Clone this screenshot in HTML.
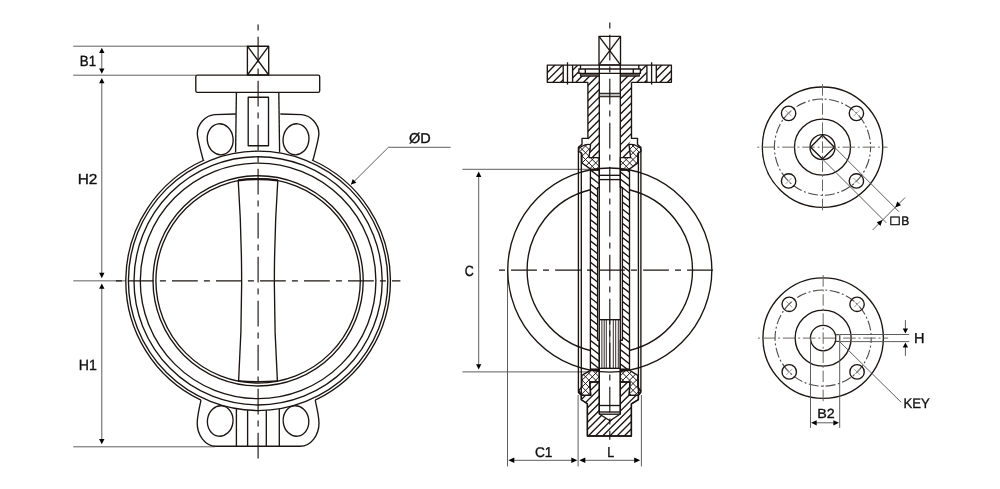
<!DOCTYPE html>
<html lang="en">
<head>
<meta charset="utf-8">
<title>Butterfly valve dimension drawing</title>
<style>
html,body{margin:0;padding:0;background:#fff;}
body{width:1000px;height:489px;overflow:hidden;}
svg{display:block;will-change:transform;}
.m{stroke:#1c1412;stroke-width:1.35;fill:none;stroke-linejoin:round;}
.s{stroke:#1c1412;stroke-width:0.9;fill:none;}
.t{stroke:#555;stroke-width:0.95;fill:none;}
.c{stroke:#1c1412;stroke-width:1.15;fill:none;}
.c2{stroke:#1c1412;stroke-width:1.3;fill:none;}
.c3{stroke:#6a6563;stroke-width:1.0;fill:none;}
.x{stroke:#8a8a8a;stroke-width:0.8;fill:none;}
.ar{fill:#000;stroke:none;}
text{font-family:"Liberation Sans","DejaVu Sans",sans-serif;fill:#111;text-rendering:geometricPrecision;}
</style>
</head>
<body>
<svg width="1000" height="489" viewBox="0 0 1000 489">
<rect width="1000" height="489" fill="#fff"/>
<g id="front-view">
<line class="t" x1="73.30" y1="46.20" x2="247.40" y2="46.20" />
<line class="t" x1="73.30" y1="75.20" x2="196.00" y2="75.20" />
<line class="t" x1="73.30" y1="280.85" x2="125.00" y2="280.85" />
<line class="t" x1="73.30" y1="446.80" x2="215.00" y2="446.80" />
<line class="t" x1="101.80" y1="51.86" x2="101.80" y2="69.54" />
<polygon class="ar" points="101.80,47.70 104.45,52.90 99.15,52.90"/>
<polygon class="ar" points="101.80,73.70 99.15,68.50 104.45,68.50"/>
<line class="t" x1="101.80" y1="82.14" x2="101.80" y2="273.91" />
<polygon class="ar" points="101.80,77.90 104.45,83.20 99.15,83.20"/>
<polygon class="ar" points="101.80,278.15 99.15,272.85 104.45,272.85"/>
<line class="t" x1="101.80" y1="287.69" x2="101.80" y2="439.96" />
<polygon class="ar" points="101.80,283.45 104.45,288.75 99.15,288.75"/>
<polygon class="ar" points="101.80,444.20 99.15,438.90 104.45,438.90"/>
<text transform="translate(79.81 65.62) scale(1.3288 1.4818)" font-size="10.0" style="stroke:#111;stroke-width:0.249">B1</text>
<text transform="translate(77.64 183.62) scale(1.5435 1.4500)" font-size="10.0" style="stroke:#111;stroke-width:0.234">H2</text>
<text transform="translate(78.74 369.52) scale(1.4130 1.4818)" font-size="10.0" style="stroke:#111;stroke-width:0.242">H1</text>
<rect class="m" x="247.4" y="46.2" width="21.3" height="28.8"/>
<line class="m" x1="247.40" y1="46.20" x2="268.70" y2="75.00" />
<line class="m" x1="268.70" y1="46.20" x2="247.40" y2="75.00" />
<rect class="m" x="195.8" y="75.1" width="123.9" height="17.2" rx="1.6" ry="1.6"/>
<path class="m" d="M236.4,92.3 L235.6,152.6" />
<path class="m" d="M278.8,92.3 L279.6,152.6" />
<rect class="m" x="248.2" y="97.2" width="20.3" height="48.6"/>
<path class="m" d="M235.90,114.0 L214.50,114.6 C205.00,115.5 197.30,124.5 197.30,133.5 C197.30,138 200.50,150 203.20,160.0" />
<ellipse class="m" cx="220.20" cy="139.3" rx="12.9" ry="15.6" transform="rotate(-7 220.20 139.3)"/>
<path class="m" d="M280.30,114.0 L301.70,114.6 C311.20,115.5 318.90,124.5 318.90,133.5 C318.90,138 315.70,150 313.00,160.0" />
<ellipse class="m" cx="296.00" cy="139.3" rx="12.9" ry="15.6" transform="rotate(7 296.00 139.3)"/>
<path class="m" d="M201.00,400.2 C199.00,409 197.20,418 197.20,423 C197.20,435 205.00,446.2 216.00,446.2 L258.1,446.2" />
<ellipse class="m" cx="220.20" cy="421.0" rx="12.8" ry="15.3" transform="rotate(7 220.20 421)"/>
<path class="m" d="M315.20,400.2 C317.20,409 319.00,418 319.00,423 C319.00,435 311.20,446.2 300.20,446.2 L258.1,446.2" />
<ellipse class="m" cx="296.00" cy="421.0" rx="12.8" ry="15.3" transform="rotate(-7 296.00 421)"/>
<line class="m" x1="236.40" y1="408.72" x2="236.40" y2="446.20" />
<line class="m" x1="247.60" y1="410.12" x2="247.60" y2="446.20" />
<line class="m" x1="266.30" y1="410.29" x2="266.30" y2="446.20" />
<line class="m" x1="279.30" y1="408.81" x2="279.30" y2="446.20" />
<path class="m" d="M311.94,160.00 A132.3,132.3 0 0 1 315.19,400.20" />
<path class="m" d="M201.01,400.20 A132.3,132.3 0 0 1 204.26,160.00" />
<circle class="m" cx="258.10" cy="280.85" r="129.70" />
<circle class="m" cx="258.10" cy="280.85" r="124.10" />
<circle class="m" cx="258.10" cy="280.85" r="117.80" />
<circle class="m" cx="258.10" cy="280.85" r="105.10" />
<circle class="m" cx="258.10" cy="280.85" r="102.20" />
<path class="m" d="M238.2,180.3 Q244.9,280.5 238.6,381.0" />
<path class="m" d="M277.8,180.3 Q271.1,280.5 277.4,381.0" />
<path class="m" d="M238.2,180.3 Q258,178.0 277.8,180.3" style="stroke-width:2.2"/>
<path class="m" d="M238.6,381.0 Q258,382.6 277.4,381.0" style="stroke-width:1.5"/>
<line class="c" x1="258.10" y1="24.60" x2="258.10" y2="458.50" stroke-dasharray="6 6.1 25.8 6.1"/>
<line class="c" x1="115.90" y1="280.85" x2="400.40" y2="280.85" stroke-dasharray="6 6.1 25.8 6.1"/>
<line class="t" x1="351.00" y1="184.50" x2="388.40" y2="147.30" />
<line class="t" x1="388.40" y1="147.30" x2="450.60" y2="147.30" />
<polygon class="ar" points="351.00,184.50 352.66,179.09 356.41,182.84"/>
<text transform="translate(409.09 143.17) scale(1.4504 1.4257)" font-size="10.0" style="stroke:#111;stroke-width:0.243">ØD</text>
</g>
<g id="section-view">
<line class="t" x1="462.40" y1="169.30" x2="590.00" y2="169.30" />
<line class="t" x1="462.40" y1="371.90" x2="590.00" y2="371.90" />
<line class="t" x1="478.70" y1="175.84" x2="478.70" y2="365.36" />
<polygon class="ar" points="478.70,171.60 481.35,176.90 476.05,176.90"/>
<polygon class="ar" points="478.70,369.60 476.05,364.30 481.35,364.30"/>
<text transform="translate(464.65 275.88) scale(1.2460 1.4859)" font-size="10.0" style="stroke:#111;stroke-width:0.256">C</text>
<line class="t" x1="507.50" y1="270.00" x2="507.50" y2="466.40" />
<line class="t" x1="578.10" y1="395.00" x2="578.10" y2="466.40" />
<line class="t" x1="641.40" y1="395.00" x2="641.40" y2="466.40" />
<line class="t" x1="513.10" y1="460.30" x2="572.50" y2="460.30" />
<polygon class="ar" points="508.30,460.30 514.30,457.50 514.30,463.10"/>
<polygon class="ar" points="577.30,460.30 571.30,463.10 571.30,457.50"/>
<line class="t" x1="584.10" y1="460.30" x2="635.40" y2="460.30" />
<polygon class="ar" points="579.30,460.30 585.30,457.50 585.30,463.10"/>
<polygon class="ar" points="640.20,460.30 634.20,463.10 634.20,457.50"/>
<text transform="translate(534.99 457.28) scale(1.3686 1.4155)" font-size="10.0" style="stroke:#111;stroke-width:0.251">C1</text>
<text transform="translate(607.18 457.43) scale(1.2472 1.4234)" font-size="10.0" style="stroke:#111;stroke-width:0.262">L</text>
<clipPath id="cp1"><path d="M547.3,65.05 H563.2 V82.3 H547.3 Z M572.6,65.05 H580.5 V69.0 H578.9 V73.4 H580.6 V76.0 H599.3 V157.6 H589.0 L590.6,144.6 L587.9,138.4 V82.3 H572.6 Z" clip-rule="evenodd"/></clipPath>
<path d="M493.21,111.51L573.31,31.41M497.03,115.33L577.13,35.23M500.85,119.14L580.94,39.05M504.67,122.96L584.76,42.87M508.48,126.78L588.58,46.68M512.30,130.60L592.40,50.50M516.12,134.42L596.22,54.32M519.94,138.24L600.04,58.14M523.76,142.05L603.85,61.96M527.58,145.87L607.67,65.78M531.39,149.69L611.49,69.59M535.21,153.51L615.31,73.41M539.03,157.33L619.13,77.23M542.85,161.15L622.95,81.05M546.67,164.96L626.76,84.87M550.49,168.78L630.58,88.69M554.30,172.60L634.40,92.50M558.12,176.42L638.22,96.32M561.94,180.24L642.04,100.14M565.76,184.06L645.86,103.96M569.58,187.88L649.68,107.78" clip-path="url(#cp1)" style="fill:none;stroke:#1c1412;stroke-width:1.35"/>
<clipPath id="cp2"><path d="M671.4,65.05 H656.3 V82.3 H671.4 Z M646.9,65.05 H638.8 V69.0 H640.4 V73.4 H639.2 V76.0 H620.3 V157.6 H630.6 L629.0,144.6 L631.5,138.4 V82.3 H646.9 Z" clip-rule="evenodd"/></clipPath>
<path d="M567.83,113.26L647.61,33.48M571.64,117.08L651.43,37.29M575.46,120.90L655.25,41.11M579.28,124.72L659.07,44.93M583.10,128.53L662.88,48.75M586.92,132.35L666.70,52.57M590.74,136.17L670.52,56.39M594.55,139.99L674.34,60.20M598.37,143.81L678.16,64.02M602.19,147.63L681.98,67.84M606.01,151.44L685.79,71.66M609.83,155.26L689.61,75.48M613.65,159.08L693.43,79.30M617.46,162.90L697.25,83.11M621.28,166.72L701.07,86.93M625.10,170.54L704.89,90.75M628.92,174.35L708.70,94.57M632.74,178.17L712.52,98.39M636.56,181.99L716.34,102.21M640.37,185.81L720.16,106.02M644.19,189.63L723.98,109.84" clip-path="url(#cp2)" style="fill:none;stroke:#1c1412;stroke-width:1.35"/>
<path class="m" d="M587.9,82.3 H547.3 V65.05 H671.4 V82.3 H631.5" />
<line class="m" x1="563.20" y1="65.05" x2="563.20" y2="82.30" />
<line class="m" x1="572.60" y1="65.05" x2="572.60" y2="82.30" />
<line class="c2" x1="567.50" y1="62.30" x2="567.50" y2="84.60" />
<line class="m" x1="656.30" y1="65.05" x2="656.30" y2="82.30" />
<line class="m" x1="646.90" y1="65.05" x2="646.90" y2="82.30" />
<line class="c2" x1="651.60" y1="62.30" x2="651.60" y2="84.60" />
<line class="m" x1="580.50" y1="69.00" x2="638.80" y2="69.00" style="stroke-width:1.5"/>
<line class="m" x1="578.90" y1="73.40" x2="640.40" y2="73.40" />
<path class="m" d="M580.5,65.05 V69.0 H578.9 V73.4 H580.6 V76.0 H599.3" />
<line class="m" x1="585.30" y1="69.00" x2="585.30" y2="73.40" />
<line class="m" x1="581.10" y1="74.80" x2="599.30" y2="74.80" style="stroke-width:1.4;stroke:#4a403c"/>
<path class="m" d="M638.8,65.05 V69.0 H640.4 V73.4 H639.2 V76.0 H620.3" />
<line class="m" x1="633.30" y1="69.00" x2="633.30" y2="73.40" />
<line class="m" x1="638.70" y1="74.80" x2="620.30" y2="74.80" style="stroke-width:1.4;stroke:#4a403c"/>
<rect class="m" x="599.0" y="36.4" width="21.5" height="28.5"/>
<line class="m" x1="599.00" y1="36.40" x2="620.50" y2="64.90" />
<line class="m" x1="620.50" y1="36.40" x2="599.00" y2="64.90" />
<path class="m" d="M587.9,82.3 V138.4 H582.0 V144.4 L578.4,147.2 V392.6 L581.3,395.3 V399.7 L587.4,403.8 V436 H609.8" />
<line class="m" x1="581.30" y1="152.50" x2="581.30" y2="394.00" />
<line class="m" x1="599.30" y1="64.90" x2="599.30" y2="414.00" />
<path class="m" d="M631.5,82.3 V138.4 H637.5 V144.4 L640.9,147.2 V392.6 L638.4,395.3 V399.7 L631.4,403.8 V436 H609.8" />
<line class="m" x1="638.40" y1="152.50" x2="638.40" y2="394.00" />
<line class="m" x1="620.30" y1="64.90" x2="620.30" y2="414.00" />
<clipPath id="cp3"><path d="M582.2,146.2 Q586.0,143.6 590.6,144.6 L589.0,157.6 H599.3 V169.6 H591.3 L581.9,163 V153.5 L578.6,151.2 L579.2,148 Z" clip-rule="evenodd"/></clipPath>
<path d="M588.50,128.60L617.40,157.50M585.10,131.99L614.01,160.90M581.71,135.38L610.62,164.29M578.32,138.78L607.22,167.68M574.92,142.17L603.83,171.08M571.53,145.57L600.43,174.47M568.13,148.96L597.04,177.87M564.74,152.36L593.64,181.26M561.35,155.75L590.25,184.65M616.53,155.63L587.63,184.53M613.14,152.23L584.23,181.14M609.74,148.84L580.84,177.74M606.35,145.45L577.45,174.35M602.96,142.05L574.05,170.96M599.56,138.66L570.66,167.56M596.17,135.26L567.26,164.17M592.77,131.87L563.87,160.77M589.38,128.47L560.47,157.38" clip-path="url(#cp3)" style="fill:none;stroke:#1c1412;stroke-width:0.95"/>
<path class="m" d="M582.2,146.2 Q586.0,143.6 590.6,144.6 L589.0,157.6 H599.3 V169.6 H591.3 L581.9,163 V153.5 L578.6,151.2 L579.2,148 Z"/>
<clipPath id="cp4"><path d="M599.3,370.2 H590.6999999999999 L581.9,375.4 V386.8 L578.8000000000001,390.6 L581.3,395.3 H590.6999999999999 L589.7,382 H599.3 Z" clip-rule="evenodd"/></clipPath>
<path d="M586.10,357.00L615.00,385.90M582.70,360.39L611.61,389.30M579.31,363.78L608.22,392.69M575.92,367.18L604.82,396.08M572.52,370.57L601.43,399.48M569.13,373.97L598.03,402.87M565.73,377.36L594.64,406.27M562.34,380.75L591.25,409.66M615.54,380.63L586.63,409.54M612.14,377.24L583.24,406.14M608.75,373.85L579.85,402.75M605.36,370.45L576.45,399.36M601.96,367.06L573.06,395.96M598.57,363.66L569.66,392.57M595.17,360.27L566.27,389.17M591.78,356.87L562.87,385.78" clip-path="url(#cp4)" style="fill:none;stroke:#1c1412;stroke-width:0.95"/>
<path class="m" d="M599.3,370.2 H590.6999999999999 L581.9,375.4 V386.8 L578.8000000000001,390.6 L581.3,395.3 H590.6999999999999 L589.7,382 H599.3 Z"/>
<clipPath id="cp5"><path d="M637.3,146.2 Q633.5,143.6 629.0,144.6 L630.6,157.6 H620.3 V169.6 H628.6 L637.8,163 V153.5 L641.0,151.2 L640.4,148 Z" clip-rule="evenodd"/></clipPath>
<path d="M629.86,129.23L658.77,158.14M626.47,132.63L655.37,161.53M623.07,136.02L651.98,164.93M619.68,139.41L648.59,168.32M616.29,142.81L645.19,171.71M612.89,146.20L641.80,175.11M609.50,149.60L638.40,178.50M606.10,152.99L635.01,181.90M602.71,156.38L631.62,185.29M657.90,154.99L628.99,183.90M654.50,151.60L625.60,180.50M651.11,148.20L622.20,177.11M647.72,144.81L618.81,173.72M644.32,141.42L615.42,170.32M640.93,138.02L612.02,166.93M637.53,134.63L608.63,163.53M634.14,131.23L605.23,160.14" clip-path="url(#cp5)" style="fill:none;stroke:#1c1412;stroke-width:0.95"/>
<path class="m" d="M637.3,146.2 Q633.5,143.6 629.0,144.6 L630.6,157.6 H620.3 V169.6 H628.6 L637.8,163 V153.5 L641.0,151.2 L640.4,148 Z"/>
<clipPath id="cp6"><path d="M620.3,370.2 H629.2 L637.8,375.4 V386.8 L640.8,390.6 L638.4,395.3 H629.2 L629.9,382 H620.3 Z" clip-rule="evenodd"/></clipPath>
<path d="M630.86,354.24L659.76,383.14M627.46,357.63L656.37,386.54M624.07,361.03L652.97,389.93M620.68,364.42L649.58,393.32M617.28,367.81L646.19,396.72M613.89,371.21L642.79,400.11M610.49,374.60L639.40,403.51M607.10,378.00L636.00,406.90M603.70,381.39L632.61,410.30M656.90,380.00L628.00,408.90M653.51,376.60L624.60,405.51M650.12,373.21L621.21,402.12M646.72,369.82L617.82,398.72M643.33,366.42L614.42,395.33M639.93,363.03L611.03,391.93M636.54,359.63L607.63,388.54M633.14,356.24L604.24,385.14" clip-path="url(#cp6)" style="fill:none;stroke:#1c1412;stroke-width:0.95"/>
<path class="m" d="M620.3,370.2 H629.2 L637.8,375.4 V386.8 L640.8,390.6 L638.4,395.3 H629.2 L629.9,382 H620.3 Z"/>
<clipPath id="cp7"><path d="M587.4,436 V403.8 L581.3,399.7 V395.3 H590.6999999999999 L589.7,382 H599.3 V414 L610.0,420.7 L620.3,414 V382 H629.9 L629.2,395.3 H638.4 V399.7 L631.4,403.8 V436 Z" clip-rule="evenodd"/></clipPath>
<path d="M549.70,409.56L610.56,348.70M553.31,413.17L614.17,352.31M556.91,416.77L617.77,355.91M560.52,420.38L621.38,359.52M564.12,423.99L624.99,363.12M567.73,427.59L628.59,366.73M571.34,431.20L632.20,370.34M574.94,434.81L635.81,373.94M578.55,438.41L639.41,377.55M582.16,442.02L643.02,381.16M585.76,445.62L646.62,384.76M589.37,449.23L650.23,388.37M592.97,452.84L653.84,391.97M596.58,456.44L657.44,395.58M600.19,460.05L661.05,399.19M603.79,463.66L664.66,402.79M607.40,467.26L668.26,406.40" clip-path="url(#cp7)" style="fill:none;stroke:#1c1412;stroke-width:1.35"/>
<path class="m" d="M587.4,436 V403.8 L581.3,399.7 V395.3 H590.6999999999999 L589.7,382 H599.3 V414 L610.0,420.7 L620.3,414 V382 H629.9 L629.2,395.3 H638.4 V399.7 L631.4,403.8 V436 Z"/>
<line class="m" x1="599.30" y1="405.50" x2="620.30" y2="405.50" />
<line class="m" x1="599.30" y1="412.00" x2="620.30" y2="412.00" />
<line class="m" x1="599.30" y1="414.20" x2="620.30" y2="414.20" />
<rect x="599.3" y="93.3" width="21.0" height="3.4" style="fill:#bbb;stroke:#1c1412;stroke-width:1.1"/>
<clipPath id="cp8"><path d="M590.4,169.7 H599.3 V187.6 H597.6 V340.2 H599.3 V369.4 H590.4 Z" clip-rule="evenodd"/></clipPath>
<path d="M574.45,129.02L736.28,255.45M571.01,133.43L732.83,259.86M567.56,137.85L729.38,264.28M564.11,142.26L725.93,268.69M560.66,146.67L722.49,273.10M557.22,151.08L719.04,277.52M553.77,155.50L715.59,281.93M550.32,159.91L712.14,286.34M546.87,164.32L708.70,290.75M543.42,168.74L705.25,295.17M539.98,173.15L701.80,299.58M536.53,177.56L698.35,303.99M533.08,181.97L694.91,308.41M529.63,186.39L691.46,312.82M526.19,190.80L688.01,317.23M522.74,195.21L684.56,321.64M519.29,199.63L681.11,326.06M515.84,204.04L677.67,330.47M512.40,208.45L674.22,334.88M508.95,212.86L670.77,339.30M505.50,217.28L667.32,343.71M502.05,221.69L663.88,348.12M498.60,226.10L660.43,352.53M495.16,230.52L656.98,356.95M491.71,234.93L653.53,361.36M488.26,239.34L650.09,365.77M484.81,243.75L646.64,370.19M481.37,248.17L643.19,374.60M477.92,252.58L639.74,379.01M474.47,256.99L636.29,383.42M471.02,261.41L632.85,387.84M467.57,265.82L629.40,392.25M464.13,270.23L625.95,396.66M460.68,274.64L622.50,401.08M457.23,279.06L619.06,405.49M453.78,283.47L615.61,409.90" clip-path="url(#cp8)" style="fill:none;stroke:#1c1412;stroke-width:1.35"/>
<path class="m" d="M590.4,169.7 H599.3 V187.6 H597.6 V340.2 H599.3 V369.4 H590.4 Z"/>
<line class="m" x1="590.40" y1="169.70" x2="599.30" y2="169.70" style="stroke-width:2"/>
<line class="m" x1="590.40" y1="369.60" x2="599.30" y2="369.60" style="stroke-width:2"/>
<clipPath id="cp9"><path d="M629.5,169.7 H620.3 V187.6 H622.4 V340.2 H620.3 V369.4 H629.5 Z" clip-rule="evenodd"/></clipPath>
<path d="M606.87,125.92L768.70,252.35M603.43,130.34L765.25,256.77M599.98,134.75L761.80,261.18M596.53,139.16L758.35,265.59M593.08,143.57L754.91,270.01M589.63,147.99L751.46,274.42M586.19,152.40L748.01,278.83M582.74,156.81L744.56,283.24M579.29,161.23L741.12,287.66M575.84,165.64L737.67,292.07M572.40,170.05L734.22,296.48M568.95,174.46L730.77,300.90M565.50,178.88L727.33,305.31M562.05,183.29L723.88,309.72M558.61,187.70L720.43,314.13M555.16,192.12L716.98,318.55M551.71,196.53L713.53,322.96M548.26,200.94L710.09,327.37M544.81,205.35L706.64,331.79M541.37,209.77L703.19,336.20M537.92,214.18L699.74,340.61M534.47,218.59L696.30,345.02M531.02,223.01L692.85,349.44M527.58,227.42L689.40,353.85M524.13,231.83L685.95,358.26M520.68,236.24L682.50,362.68M517.23,240.66L679.06,367.09M513.79,245.07L675.61,371.50M510.34,249.48L672.16,375.91M506.89,253.90L668.71,380.33M503.44,258.31L665.27,384.74M499.99,262.72L661.82,389.15M496.55,267.13L658.37,393.57M493.10,271.55L654.92,397.98M489.65,275.96L651.48,402.39M486.20,280.37L648.03,406.80M482.76,284.79L644.58,411.22" clip-path="url(#cp9)" style="fill:none;stroke:#1c1412;stroke-width:1.35"/>
<path class="m" d="M629.5,169.7 H620.3 V187.6 H622.4 V340.2 H620.3 V369.4 H629.5 Z"/>
<line class="m" x1="629.50" y1="169.70" x2="620.30" y2="169.70" style="stroke-width:2"/>
<line class="m" x1="629.50" y1="369.60" x2="620.30" y2="369.60" style="stroke-width:2"/>
<line class="m" x1="599.30" y1="175.30" x2="620.30" y2="175.30" />
<line class="m" x1="599.30" y1="179.60" x2="620.30" y2="179.60" />
<line class="m" x1="599.30" y1="319.70" x2="620.30" y2="319.70" />
<line class="s" x1="601.90" y1="319.70" x2="601.90" y2="368.30" />
<line class="s" x1="604.20" y1="319.70" x2="604.20" y2="368.30" />
<line class="s" x1="606.30" y1="319.70" x2="606.30" y2="368.30" />
<line class="s" x1="613.30" y1="319.70" x2="613.30" y2="368.30" />
<line class="s" x1="615.70" y1="319.70" x2="615.70" y2="368.30" />
<line class="s" x1="618.30" y1="319.70" x2="618.30" y2="368.30" />
<line class="s" x1="609.80" y1="319.70" x2="609.80" y2="368.30" />
<line class="m" x1="599.30" y1="368.30" x2="620.30" y2="368.30" />
<circle class="m" cx="609.80" cy="270.10" r="102.05" />
<path class="m" d="M629.30,189.73 A82.7,82.7 0 0 1 629.30,350.47" />
<path class="m" d="M590.30,350.47 A82.7,82.7 0 0 1 590.30,189.73" />
<line class="c" x1="609.80" y1="22.60" x2="609.80" y2="439.70" stroke-dasharray="6 6.1 25.8 6.1"/>
<line class="c" x1="499.00" y1="270.10" x2="714.30" y2="270.10" stroke-dasharray="6 6.1 25.8 6.1"/>
</g>
<g id="top-square">
<circle class="m" cx="822.50" cy="147.15" r="60.20" />
<circle class="m" cx="822.50" cy="147.15" r="28.00" />
<circle class="m" cx="822.50" cy="147.15" r="12.50" />
<circle class="c3" cx="822.50" cy="147.15" r="48.10" stroke-dasharray="10 2.5 2 2.5" stroke-dashoffset="5" style="stroke:#4f4a48;stroke-width:1.1"/>
<circle class="m" cx="788.60" cy="113.35" r="7.20" />
<line class="x" x1="785.60" y1="110.35" x2="791.60" y2="116.35" />
<line class="x" x1="785.60" y1="116.35" x2="791.60" y2="110.35" />
<circle class="m" cx="788.60" cy="180.95" r="7.20" />
<line class="x" x1="785.60" y1="177.95" x2="791.60" y2="183.95" />
<line class="x" x1="785.60" y1="183.95" x2="791.60" y2="177.95" />
<circle class="m" cx="856.40" cy="113.35" r="7.20" />
<line class="x" x1="853.40" y1="110.35" x2="859.40" y2="116.35" />
<line class="x" x1="853.40" y1="116.35" x2="859.40" y2="110.35" />
<circle class="m" cx="856.40" cy="180.95" r="7.20" />
<line class="x" x1="853.40" y1="177.95" x2="859.40" y2="183.95" />
<line class="x" x1="853.40" y1="183.95" x2="859.40" y2="177.95" />
<line class="c3" x1="757.30" y1="147.15" x2="887.50" y2="147.15" stroke-dasharray="2 2.8 12.5 2.8"/>
<line class="c3" x1="822.50" y1="84.15" x2="822.50" y2="210.35" stroke-dasharray="11.5 2.8 2 2.8"/>
</g>
<path class="m" d="M810.6,147.15 L822.5,135.25 L834.4,147.15 L822.5,159.05 Z" />
<line class="t" x1="834.40" y1="147.15" x2="899.00" y2="211.75" />
<line class="t" x1="822.50" y1="159.05" x2="886.30" y2="222.85" />
<line class="t" x1="872.50" y1="230.10" x2="905.00" y2="197.60" />
<polygon class="ar" points="882.50,220.10 880.41,225.93 876.67,222.19"/>
<polygon class="ar" points="895.20,207.40 897.29,201.57 901.03,205.31"/>
<text transform="translate(890.58 224.65) scale(1.4958 1.3782)" font-size="10.0" style="stroke:#111;stroke-width:0.348">□</text>
<text transform="translate(901.31 224.82) scale(1.2056 1.2336)" font-size="10.0" style="stroke:#111;stroke-width:0.287">B</text>
<g id="top-key">
<circle class="m" cx="823.15" cy="338.10" r="60.20" />
<circle class="m" cx="823.15" cy="338.10" r="28.00" />
<circle class="m" cx="823.15" cy="338.10" r="12.70" />
<circle class="c3" cx="823.15" cy="338.10" r="48.10" stroke-dasharray="10 2.5 2 2.5" stroke-dashoffset="5" style="stroke:#4f4a48;stroke-width:1.1"/>
<circle class="m" cx="789.25" cy="304.30" r="7.20" />
<line class="x" x1="786.25" y1="301.30" x2="792.25" y2="307.30" />
<line class="x" x1="786.25" y1="307.30" x2="792.25" y2="301.30" />
<circle class="m" cx="789.25" cy="371.90" r="7.20" />
<line class="x" x1="786.25" y1="368.90" x2="792.25" y2="374.90" />
<line class="x" x1="786.25" y1="374.90" x2="792.25" y2="368.90" />
<circle class="m" cx="857.05" cy="304.30" r="7.20" />
<line class="x" x1="854.05" y1="301.30" x2="860.05" y2="307.30" />
<line class="x" x1="854.05" y1="307.30" x2="860.05" y2="301.30" />
<circle class="m" cx="857.05" cy="371.90" r="7.20" />
<line class="x" x1="854.05" y1="368.90" x2="860.05" y2="374.90" />
<line class="x" x1="854.05" y1="374.90" x2="860.05" y2="368.90" />
<line class="c3" x1="757.95" y1="338.10" x2="888.15" y2="338.10" stroke-dasharray="2 2.8 12.5 2.8"/>
<line class="c3" x1="823.15" y1="275.10" x2="823.15" y2="401.30" stroke-dasharray="11.5 2.8 2 2.8"/>
</g>
<rect class="m" x="835.8" y="334.7" width="4.0" height="6.7" rx="0.8" style="fill:#fff;stroke-width:1.0"/>
<line class="t" x1="839.80" y1="334.50" x2="909.20" y2="334.50" />
<line class="t" x1="839.80" y1="341.60" x2="909.20" y2="341.60" />
<line class="t" x1="905.40" y1="320.10" x2="905.40" y2="329.00" />
<line class="t" x1="905.40" y1="347.00" x2="905.40" y2="355.90" />
<polygon class="ar" points="905.40,333.50 902.75,328.50 908.05,328.50"/>
<polygon class="ar" points="905.40,342.50 908.05,347.50 902.75,347.50"/>
<text transform="translate(914.01 343.22) scale(1.4554 1.4380)" font-size="10.0" style="stroke:#111;stroke-width:0.242">H</text>
<line class="t" x1="839.60" y1="341.60" x2="901.20" y2="402.30" />
<text transform="translate(903.52 408.02) scale(1.3166 1.3942)" font-size="10.0" style="stroke:#111;stroke-width:0.258">KEY</text>
<line class="t" x1="810.50" y1="338.00" x2="810.50" y2="427.90" />
<line class="t" x1="839.70" y1="341.60" x2="839.70" y2="427.90" />
<line class="t" x1="815.58" y1="422.80" x2="834.52" y2="422.80" />
<polygon class="ar" points="811.10,422.80 816.70,420.15 816.70,425.45"/>
<polygon class="ar" points="839.00,422.80 833.40,425.45 833.40,420.15"/>
<text transform="translate(817.33 418.12) scale(1.4292 1.3214)" font-size="10.0" style="stroke:#111;stroke-width:0.254">B2</text>
</svg>
</body>
</html>
